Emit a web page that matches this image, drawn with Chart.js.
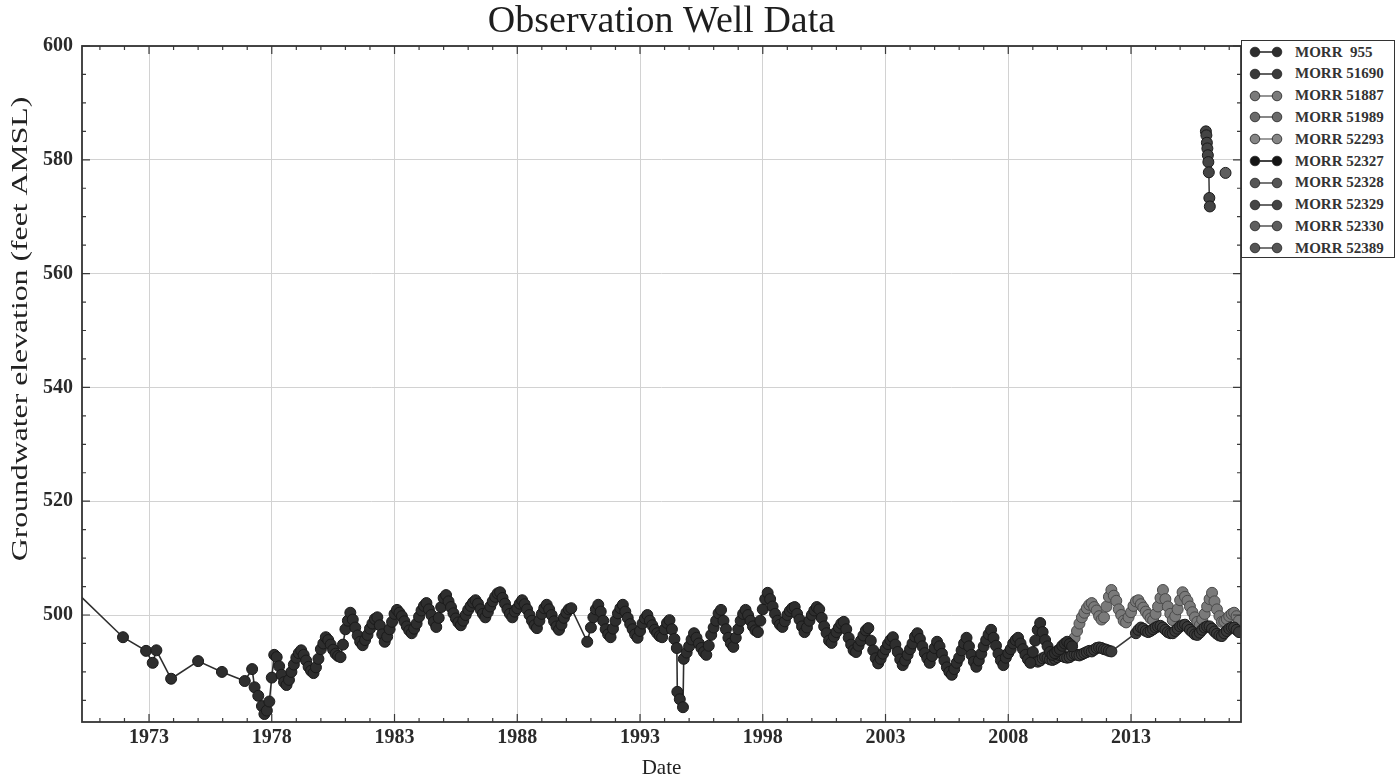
<!DOCTYPE html>
<html><head><meta charset="utf-8">
<script src="https://cdn.jsdelivr.net/npm/chart.js@4.4.1/dist/chart.umd.min.js"></script>
<style>
html,body{margin:0;padding:0;background:#fff;}
#wrap{position:relative;width:1396px;height:783px;}
#legend{position:absolute;left:1241px;top:40px;width:154px;height:218px;border:1.5px solid #333;box-sizing:border-box;background:#fff;font-family:"Liberation Serif",serif;font-weight:bold;font-size:15px;color:#333;}
.row{position:absolute;left:0;height:20px;display:flex;align-items:center;white-space:pre;}
.row svg{margin-left:7px;margin-right:12px;}
</style></head><body>
<div id="wrap"><canvas id="c" width="1396" height="783"></canvas><div id="legend"></div></div>
<script>
// ---- Data ----
const seriesNames = ["MORR  955","MORR 51690","MORR 51887","MORR 51989","MORR 52293","MORR 52327","MORR 52328","MORR 52329","MORR 52330","MORR 52389"];
const seriesColors = ["#2e2e2e","#3a3a3a","#7a7a7a","#6a6a6a","#858585","#151515","#555555","#444444","#5e5e5e","#555555"];
const xTickYears = [1973,1978,1983,1988,1993,1998,2003,2008,2013];
const yTickValues = [500,520,540,560,580,600];

// MORR 955: [decimal year, feet AMSL]
const morr955 = [
[1969.8,505.0],[1971.94,496.1],[1972.88,493.7],[1973.15,491.6],[1973.30,493.8],[1973.90,488.8],[1975.00,491.9],[1975.97,490.0],[1976.90,488.4],
[1977.20,490.5],[1977.30,487.3],[1977.45,485.8],[1977.60,484.0],[1977.70,482.6],[1977.80,483.2],[1977.90,484.8],
[1978.0,489.0],[1978.1,493.0],[1978.2,492.6],[1978.3,491.0],[1978.4,489.5],[1978.5,488.2],[1978.6,487.7],[1978.7,488.6],[1978.8,490.0],[1978.9,491.3],
[1979.0,492.5],[1979.1,493.3],[1979.2,493.8],[1979.3,493.0],[1979.4,492.0],[1979.5,490.9],[1979.6,490.2],[1979.7,489.8],[1979.8,490.8],[1979.9,492.3],
[1980.0,494.0],[1980.1,495.0],[1980.2,496.1],[1980.3,495.6],[1980.4,494.8],[1980.5,493.9],[1980.6,493.2],[1980.7,492.8],[1980.8,492.6],[1980.9,494.8],
[1981.0,497.5],[1981.1,499.0],[1981.2,500.4],[1981.3,499.2],[1981.4,497.8],[1981.5,496.4],[1981.6,495.3],[1981.7,494.7],[1981.8,495.6],[1981.9,496.5],
[1982.0,497.6],[1982.1,498.5],[1982.2,499.3],[1982.3,499.6],[1982.4,498.2],[1982.5,496.6],[1982.6,495.3],[1982.7,496.2],[1982.8,497.5],[1982.9,498.8],
[1983.0,500.2],[1983.1,500.9],[1983.2,500.4],[1983.3,499.8],[1983.4,498.9],[1983.5,498.0],[1983.6,497.3],[1983.7,496.8],[1983.8,497.6],[1983.9,498.5],
[1984.0,499.7],[1984.1,500.8],[1984.2,501.6],[1984.3,502.1],[1984.4,501.0],[1984.5,500.0],[1984.6,498.8],[1984.7,497.9],[1984.8,499.5],[1984.9,501.4],
[1985.0,503.0],[1985.1,503.5],[1985.2,502.4],[1985.3,501.4],[1985.4,500.3],[1985.5,499.4],[1985.6,498.7],[1985.7,498.2],[1985.8,499.0],[1985.9,500.0],
[1986.0,500.9],[1986.1,501.6],[1986.2,502.2],[1986.3,502.6],[1986.4,502.0],[1986.5,501.0],[1986.6,500.2],[1986.7,499.6],[1986.8,500.5],[1986.9,501.5],
[1987.0,502.4],[1987.1,503.2],[1987.2,503.8],[1987.3,504.0],[1987.4,503.0],[1987.5,502.0],[1987.6,501.0],[1987.7,500.2],[1987.8,499.6],[1987.9,500.6],
[1988.0,501.2],[1988.1,502.0],[1988.2,502.6],[1988.3,501.9],[1988.4,501.0],[1988.5,500.0],[1988.6,499.0],[1988.7,498.2],[1988.8,497.7],[1988.9,499.0],
[1989.0,500.2],[1989.1,501.2],[1989.2,501.8],[1989.3,501.0],[1989.4,500.0],[1989.5,498.9],[1989.6,498.0],[1989.7,497.4],[1989.8,498.3],[1989.9,499.5],
[1990.0,500.4],[1990.1,501.0],[1990.2,501.2],[1990.85,495.3],
[1991.0,497.8],[1991.1,499.6],[1991.2,501.0],[1991.3,501.8],[1991.4,500.6],[1991.5,499.0],[1991.6,497.5],[1991.7,496.6],[1991.8,496.1],[1991.9,497.6],
[1992.0,499.0],[1992.1,500.3],[1992.2,501.2],[1992.3,501.8],[1992.4,500.6],[1992.5,499.5],[1992.6,498.4],[1992.7,497.5],[1992.8,496.6],[1992.9,496.0],
[1993.0,497.2],[1993.1,498.5],[1993.2,499.4],[1993.3,500.0],[1993.4,499.0],[1993.5,498.2],[1993.6,497.4],[1993.7,496.8],[1993.8,496.3],[1993.9,496.1],
[1994.0,497.5],[1994.1,498.6],[1994.2,499.1],[1994.3,497.5],[1994.4,495.8],[1994.5,494.2],[1994.52,486.5],[1994.62,485.2],[1994.75,483.8],[1994.78,492.3],[1994.9,493.4],
[1995.0,494.5],[1995.1,495.7],[1995.2,496.8],[1995.3,496.0],[1995.4,495.0],[1995.5,494.2],[1995.6,493.5],[1995.7,493.0],[1995.8,494.6],[1995.9,496.5],
[1996.0,497.8],[1996.1,499.0],[1996.2,500.3],[1996.3,500.9],[1996.4,499.0],[1996.5,497.5],[1996.6,496.0],[1996.7,495.0],[1996.8,494.4],[1996.9,496.0],
[1997.0,497.5],[1997.1,499.0],[1997.2,500.2],[1997.3,500.9],[1997.4,500.0],[1997.5,499.0],[1997.6,498.0],[1997.7,497.3],[1997.8,497.0],[1997.9,499.0],
[1998.0,501.0],[1998.1,502.8],[1998.2,503.9],[1998.3,502.8],[1998.4,501.5],[1998.5,500.2],[1998.6,499.0],[1998.7,498.3],[1998.8,497.9],[1998.9,498.9],
[1999.0,500.0],[1999.1,500.7],[1999.2,501.2],[1999.3,501.4],[1999.4,500.2],[1999.5,499.2],[1999.6,498.0],[1999.7,497.0],[1999.8,497.8],[1999.9,499.0],
[2000.0,500.0],[2000.1,500.8],[2000.2,501.4],[2000.3,501.0],[2000.4,499.5],[2000.5,498.0],[2000.6,496.8],[2000.7,495.5],[2000.8,495.1],[2000.9,496.2],
[2001.0,497.0],[2001.1,497.8],[2001.2,498.5],[2001.3,498.8],[2001.4,497.5],[2001.5,496.0],[2001.6,494.8],[2001.7,493.8],[2001.8,493.5],[2001.9,494.6],
[2002.0,495.5],[2002.1,496.4],[2002.2,497.3],[2002.3,497.7],[2002.4,495.5],[2002.5,493.8],[2002.6,492.4],[2002.7,491.5],[2002.8,492.3],[2002.9,493.2],
[2003.0,494.0],[2003.1,494.9],[2003.2,495.6],[2003.3,496.1],[2003.4,494.8],[2003.5,493.5],[2003.6,492.2],[2003.7,491.2],[2003.8,492.0],[2003.9,493.0],
[2004.0,494.0],[2004.1,495.0],[2004.2,496.2],[2004.3,496.8],[2004.4,495.8],[2004.5,494.5],[2004.6,493.3],[2004.7,492.4],[2004.8,491.6],[2004.9,492.8],
[2005.0,494.2],[2005.1,495.3],[2005.2,494.5],[2005.3,493.2],[2005.4,492.0],[2005.5,490.8],[2005.6,490.0],[2005.7,489.5],[2005.8,490.5],[2005.9,491.6],
[2006.0,492.5],[2006.1,493.8],[2006.2,495.0],[2006.3,496.0],[2006.4,494.5],[2006.5,493.0],[2006.6,491.8],[2006.7,490.9],[2006.8,492.0],[2006.9,493.2],
[2007.0,494.5],[2007.1,495.6],[2007.2,496.6],[2007.3,497.4],[2007.4,496.0],[2007.5,494.6],[2007.6,493.2],[2007.7,492.0],[2007.8,491.2],[2007.9,492.5],
[2008.0,493.3],[2008.1,494.0],[2008.2,495.0],[2008.3,495.6],[2008.4,496.0],[2008.5,495.0],[2008.6,494.0],[2008.7,493.0],[2008.8,492.2],[2008.9,491.6],
[2009.0,493.5],[2009.1,495.5],[2009.2,497.4],[2009.3,498.6],[2009.4,497.0],[2009.5,495.6],[2009.6,494.5],[2009.7,493.5],[2009.8,493.0],[2009.9,493.3],
[2010.0,493.7],[2010.1,494.0],[2010.2,494.6],[2010.3,495.0],[2010.4,495.3],[2010.5,494.9],[2010.6,494.5]
];

// MORR 51690 (lower series from 2009)
const morr51690 = [
[2009.0,492.3],[2009.1,492.0],[2009.2,491.8],[2009.3,492.0],[2009.4,492.4],[2009.5,492.6],[2009.6,492.5],[2009.7,492.2],[2009.8,492.1],[2009.9,492.3],
[2010.0,492.6],[2010.1,492.9],[2010.2,492.8],[2010.3,492.6],[2010.4,492.5],[2010.5,492.6],[2010.6,492.9],[2010.7,493.1],[2010.8,493.0],[2010.9,492.9],
[2011.0,493.1],[2011.1,493.3],[2011.2,493.5],[2011.3,493.7],[2011.4,493.6],[2011.5,493.9],[2011.6,494.2],[2011.7,494.3],[2011.8,494.2],[2011.9,494.0],
[2012.0,493.9],[2012.1,493.7],[2012.2,493.6],
[2013.2,496.8],[2013.3,497.4],[2013.4,497.8],[2013.5,497.6],[2013.6,497.2],[2013.7,497.0],[2013.8,497.2],[2013.9,497.5],
[2014.0,497.8],[2014.1,498.0],[2014.2,498.1],[2014.3,497.8],[2014.4,497.4],[2014.5,497.0],[2014.6,496.8],[2014.7,496.8],[2014.8,497.2],[2014.9,497.6],
[2015.0,498.0],[2015.1,498.2],[2015.2,498.3],[2015.3,497.9],[2015.4,497.4],[2015.5,497.0],[2015.6,496.6],[2015.7,496.5],[2015.8,496.9],[2015.9,497.4],
[2016.0,497.8],[2016.1,498.0],[2016.2,498.0],[2016.3,497.6],[2016.4,497.1],[2016.5,496.7],[2016.6,496.4],[2016.7,496.3],[2016.8,496.8],[2016.9,497.2],
[2017.0,497.6],[2017.1,497.8],[2017.2,497.8],[2017.3,497.4],[2017.4,497.0]
];

// MORR 51887 (upper grey series from 2010.5)
const morr51887 = [
[2010.5,494.4],[2010.6,495.2],[2010.7,496.0],[2010.8,497.2],[2010.9,498.5],
[2011.0,499.6],[2011.1,500.4],[2011.2,501.2],[2011.3,501.8],[2011.4,502.1],[2011.5,501.4],[2011.6,500.8],[2011.7,499.8],[2011.8,499.2],[2011.9,499.6],
[2012.0,501.5],[2012.1,503.2],[2012.2,504.4],[2012.3,503.4],[2012.4,502.5],[2012.5,501.0],[2012.6,500.0],[2012.7,499.0],[2012.8,498.7],[2012.9,499.6],
[2013.0,500.5],[2013.1,501.6],[2013.2,502.4],[2013.3,502.6],[2013.4,501.9],[2013.5,501.3],[2013.6,500.6],[2013.7,500.0],[2013.8,499.4],[2013.9,499.1],
[2014.0,500.2],[2014.1,501.5],[2014.2,503.0],[2014.3,504.4],[2014.4,502.8],[2014.5,501.5],[2014.6,500.2],[2014.7,499.1],[2014.8,499.8],[2014.9,501.0],
[2015.0,502.6],[2015.1,504.0],[2015.2,503.2],[2015.3,502.5],[2015.4,501.5],[2015.5,500.5],[2015.6,499.6],[2015.7,498.8],[2015.8,498.2],[2015.9,499.2],
[2016.0,500.2],[2016.1,501.5],[2016.2,502.8],[2016.3,503.9],[2016.4,502.4],[2016.5,501.0],[2016.6,499.8],[2016.7,498.8],[2016.8,498.9],[2016.9,499.3],
[2017.0,499.8],[2017.1,500.2],[2017.2,500.4],[2017.3,499.8],[2017.4,499.0]
];

// MORR 52329 (high cluster, 2016)
const morr52329 = [[2016.05,585.0],[2016.07,584.3],[2016.09,583.0],[2016.11,582.0],[2016.13,580.8],[2016.15,579.6],[2016.17,577.8],[2016.19,573.3],[2016.21,571.8]];
// MORR 52330 (single point)
const morr52330 = [[2016.85,577.7]];

const seriesData = [morr955, morr51690, morr51887, [], [], [], [], morr52329, morr52330, []];

// ---- Legend (HTML) ----
const legendEl = document.getElementById('legend');
seriesNames.forEach((name, i) => {
  const row = document.createElement('div');
  row.className = 'row';
  row.style.top = (1 + i * 21.8) + 'px';
  const c = seriesColors[i];
  row.innerHTML = '<svg width="34" height="14"><line x1="6" y1="7" x2="28" y2="7" stroke="' + c + '" stroke-width="1.6"/>' +
    '<circle cx="6" cy="7" r="4.8" fill="' + c + '" stroke="#222" stroke-width="0.8"/>' +
    '<circle cx="28" cy="7" r="4.8" fill="' + c + '" stroke="#222" stroke-width="0.8"/></svg>' + name;
  legendEl.appendChild(row);
});

// ---- Chart ----
const datasets = seriesNames.map((name, i) => ({
  label: name,
  data: seriesData[i].map(p => ({x: p[0], y: p[1]})),
  borderColor: seriesColors[i],
  backgroundColor: seriesColors[i],
  pointBackgroundColor: seriesColors[i],
  pointBorderColor: i === 2 ? '#4a4a4a' : '#1a1a1a',
  pointBorderWidth: 1,
  pointRadius: 5.5,
  borderWidth: 1.6,
  showLine: true,
  tension: 0
}));

const frameTicks = {
  id: 'frameTicks',
  afterDraw(chart) {
    const ctx = chart.ctx, a = chart.chartArea;
    const xs = chart.scales.x, ys = chart.scales.y;
    ctx.save();
    ctx.strokeStyle = '#3a3a3a';
    ctx.lineWidth = 1.2;
    for (let yr = 1971; yr <= 2017; yr++) {
      const px = xs.getPixelForValue(yr);
      const len = (yr - 1973) % 5 === 0 ? 8 : 4;
      ctx.beginPath();
      ctx.moveTo(px, a.bottom); ctx.lineTo(px, a.bottom - len);
      ctx.moveTo(px, a.top); ctx.lineTo(px, a.top + len);
      ctx.stroke();
    }
    for (let v = 485; v <= 600; v += 5) {
      const py = ys.getPixelForValue(v);
      const len = v % 20 === 0 ? 8 : 4;
      ctx.beginPath();
      ctx.moveTo(a.left, py); ctx.lineTo(a.left + len, py);
      ctx.moveTo(a.right, py); ctx.lineTo(a.right - len, py);
      ctx.stroke();
    }
    ctx.lineWidth = 1.8;
    ctx.strokeStyle = '#333';
    ctx.strokeRect(a.left, a.top, a.right - a.left, a.bottom - a.top);
    ctx.fillStyle = '#1e1e1e';
    ctx.textAlign = 'center';
    ctx.textBaseline = 'middle';
    ctx.font = '38px "Liberation Serif"';
    ctx.fillText('Observation Well Data', (a.left + a.right) / 2, 22);
    // y-axis title (stretched along its length as in the reference)
    ctx.save();
    ctx.translate(21, 329);
    ctx.rotate(-Math.PI / 2);
    ctx.scale(1.38, 1);
    ctx.font = '23px "Liberation Serif"';
    ctx.fillStyle = '#222';
    ctx.fillText('Groundwater elevation (feet AMSL)', 0, 0);
    ctx.restore();
    ctx.restore();
  }
};

new Chart(document.getElementById('c'), {
  type: 'line',
  data: { datasets },
  options: {
    responsive: false,
    animation: false,
    layout: { padding: { top: 46, right: 155, left: 0, bottom: 0 } },
    plugins: { legend: { display: false }, tooltip: { enabled: false }, title: { display: false } },
    scales: {
      x: {
        type: 'linear',
        min: 1970.27, max: 2017.48,
        afterBuildTicks: s => { s.ticks = xTickYears.map(v => ({ value: v })); },
        afterFit: s => { s.height = 61; },
        ticks: { callback: v => String(v), font: { family: 'Liberation Serif', size: 20, weight: 'bold' }, color: '#2a2a2a', padding: 4, maxRotation: 0, autoSkip: false },
        grid: { color: '#d2d2d2', lineWidth: 1, drawTicks: false },
        border: { display: false },
        title: { display: true, text: 'Date', font: { family: 'Liberation Serif', size: 21 }, color: '#222', padding: { top: 0, bottom: 2 } }
      },
      y: {
        type: 'linear',
        min: 481.2, max: 600,
        afterBuildTicks: s => { s.ticks = yTickValues.map(v => ({ value: v })); },
        afterFit: s => { s.width = 82; },
        ticks: { font: { family: 'Liberation Serif', size: 20, weight: 'bold' }, color: '#2a2a2a', padding: 9 },
        grid: { color: '#d2d2d2', lineWidth: 1, drawTicks: false },
        border: { display: false },
        title: { display: false }
      }
    }
  },
  plugins: [frameTicks]
});
</script>
</body></html>
